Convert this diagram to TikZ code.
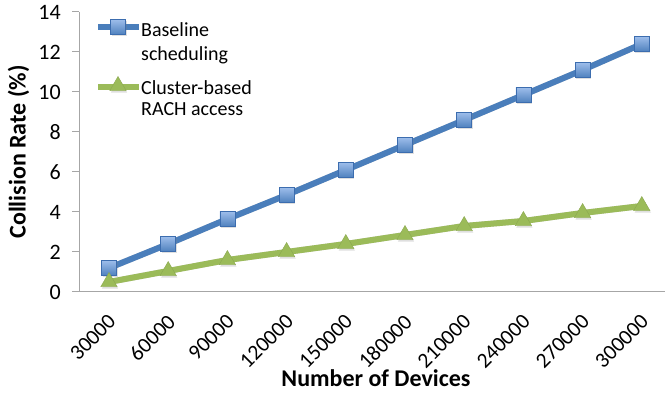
\documentclass[tikz,border=0pt]{standalone}
\usepackage{fontspec}
\setmainfont{Carlito}
\usetikzlibrary{shapes.geometric,shadows}
\definecolor{bline}{HTML}{4A7EBB}
\definecolor{bedge}{HTML}{3C6DAF}
\definecolor{btop}{HTML}{9DBDEB}
\definecolor{bbot}{HTML}{4F81BD}
\definecolor{gline}{HTML}{9BBB59}
\definecolor{axisgray}{HTML}{A6A6A6}
\tikzset{
  axisline/.style={draw=axisgray, line width=1pt},
  serb/.style={draw=bline, line width=6pt, line join=round, line cap=round},
  serg/.style={draw=gline, line width=6pt, line join=round, line cap=round},
  shadowline/.style={draw=black, opacity=0.18, line width=6pt, line join=round, line cap=round},
  bmark/.style={rectangle, minimum size=15pt, inner sep=0pt, draw=bedge, line width=0.6pt,
    top color=btop, bottom color=bbot,
    drop shadow={opacity=0.25, shadow xshift=1pt, shadow yshift=-2pt}},
  gmark/.style={regular polygon, regular polygon sides=3, minimum size=19pt, inner sep=0pt,
    fill=gline, draw=gline!90!black, line width=0.4pt,
    drop shadow={opacity=0.25, shadow xshift=1pt, shadow yshift=-2pt}},
  ylab/.style={anchor=east, inner sep=0pt, font=\fontsize{22}{24}\selectfont},
  xlab/.style={anchor=north east, rotate=45, inner sep=0pt, font=\fontsize{21.5}{24}\selectfont},
  legtext/.style={anchor=base west, inner sep=0pt, font=\fontsize{20}{24}\selectfont},
  title/.style={inner sep=0pt, font=\fontsize{24}{28}\selectfont\bfseries},
}
\begin{document}
\begin{tikzpicture}[x=1pt,y=1pt]
\useasboundingbox (0,0) rectangle (665,395);
% axes
\coordinate (O) at (79.4,103);
\coordinate (Ytop) at (79.4,383);
\coordinate (Xend) at (665,103);
\draw[axisline] (Ytop) -- (O) -- (Xend);
\foreach \v in {0,2,...,14} {
  \draw[axisline] (72,103+20*\v) -- (79.4,103+20*\v);
  \node[ylab] (yl\v) at (61,103+20*\v) {\v};
}
% x tick labels
\foreach \lab [count=\i] in {30000,60000,90000,120000,150000,180000,210000,240000,270000,300000} {
  \node[xlab] (xl\i) at (79.4+59.2*\i-29.6-2,82) {\lab};
}
% data coordinates
\foreach \v [count=\i] in {1.2,2.4,3.65,4.85,6.1,7.35,8.6,9.85,11.1,12.4} {
  \coordinate (b\i) at (79.4+59.2*\i-29.6,103+20*\v);
}
\foreach \v [count=\i] in {0.5,1.05,1.6,2.0,2.4,2.85,3.3,3.55,3.95,4.3} {
  \coordinate (g\i) at (79.4+59.2*\i-29.6,103+20*\v);
}
% shadows of lines
\begin{scope}[shift={(1.2pt,-2.4pt)}]
\draw[shadowline] (b1) \foreach \i in {2,...,10} { -- (b\i) };
\draw[shadowline] (g1) \foreach \i in {2,...,10} { -- (g\i) };
\end{scope}
% series lines
\draw[serb] (b1) \foreach \i in {2,...,10} { -- (b\i) };
\draw[serg] (g1) \foreach \i in {2,...,10} { -- (g\i) };
% markers
\foreach \i in {1,...,10} {
  \node[bmark] (mb\i) at (b\i) {};
}
\foreach \i in {1,...,10} {
  \node[gmark] (mg\i) at (g\i) {};
}
% legend
\coordinate (lb1) at (98,368);
\coordinate (lb2) at (139,368);
\draw[serb, line cap=butt] (lb1) -- (lb2);
\node[bmark] (lbm) at (118,368) {};
\node[legtext] (lt1) at (141,358) {Baseline};
\node[legtext] (lt2) at (141,334) {scheduling};
\coordinate (lg1) at (98,308);
\coordinate (lg2) at (139,308);
\draw[serg, line cap=butt] (lg1) -- (lg2);
\node[gmark] (lgm) at (118,309) {};
\node[legtext] (lt3) at (141,300) {Cluster-based};
\node[legtext] (lt4) at (141,279) {RACH access};
% titles
\node[title, anchor=base] (xt) at (376,8.5) {Number of Devices};
\node[title, anchor=base, rotate=90] (yt) at (25.5,243) {Collision Rate (\%)};
\end{tikzpicture}
\end{document}
